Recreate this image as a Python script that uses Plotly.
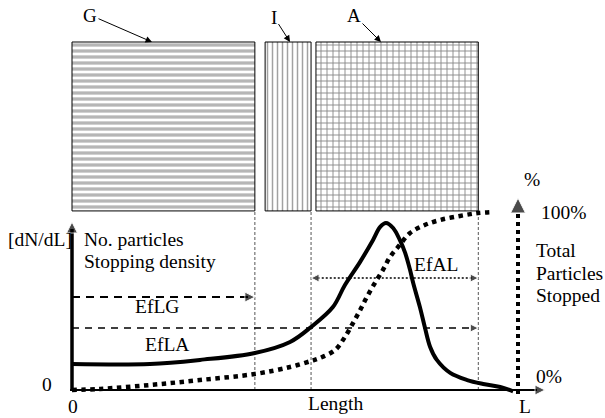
import plotly.graph_objects as go

# ---------------- data ----------------
layer_names = ["G", "I", "A"]
layer_start = [0.0, 43.3, 54.7]
layer_end = [41.0, 53.6, 91.1]
layer_band = [100.6, 195.5]          # vertical extent of the layer sketch

length_pos = [0, 17.5, 28.7, 41.0, 48.9, 53.6, 58.5, 61.2, 64.6, 67.5, 69.1, 70.4,
              72.0, 73.5, 74.7, 75.8, 76.5, 78.0, 79.1, 80.3, 81.8, 84.8, 88.6,
              92.2, 96.0, 98.9]
density = [14.6, 14.6, 16.9, 20.8, 27.0, 35.4, 46.6, 59.0, 72.0, 84.3, 91.6, 93.8,
           91.0, 84.3, 77.0, 67.4, 60.1, 46.6, 35.4, 24.2, 16.9, 9.6, 5.6,
           3.4, 1.7, -0.8]

cum_pos = [0, 6.3, 17.5, 28.7, 41.0, 48.9, 53.6, 55.6, 59.0, 61.2, 63.0, 64.6,
           66.1, 67.9, 69.7, 71.3, 73.5, 75.8, 79.1, 82.5, 87.0, 91.0, 94.4]
cum_pct = [0, 0.6, 2.8, 5.6, 9.0, 12.9, 16.3, 18.0, 22.5, 29.8, 37.6, 44.9,
           52.2, 60.1, 67.4, 74.7, 81.5, 88.2, 92.7, 95.5, 97.8, 99.4, 100]

L_total = 100.0
eflg_level = 52.2
efla_level = 34.8
efal_level = 62.9

# ---------------- layout helpers (pixel -> data) ----------------
SX, X0 = 4.46, 72.0
SY, Y0 = 1.78, 390.0


def dx(p):
    return (p - X0) / SX


def dy(p):
    return (Y0 - p) / SY


FONT = "Liberation Serif"
fig = go.Figure()

# ---- layer rectangles ----
patterns = [
    dict(shape="-", size=6, solidity=0.55, fgcolor="#6e6e6e", bgcolor="white"),
    dict(shape="|", size=5, solidity=0.3, fgcolor="#444444", bgcolor="white"),
    dict(shape="+", size=6, solidity=0.28, fgcolor="#111111", bgcolor="white"),
]
for name, s, e, pat in zip(layer_names, layer_start, layer_end, patterns):
    fig.add_trace(go.Bar(
        x=[(s + e) / 2], y=[layer_band[1] - layer_band[0]], base=[layer_band[0]],
        width=[e - s], marker=dict(color="white", line=dict(color="black", width=1),
                                   pattern=pat),
        showlegend=False, hoverinfo="skip", name=name))

# ---- vertical guide lines at layer ends ----
for xe in [layer_end[0], layer_end[1], layer_end[2]]:
    fig.add_trace(go.Scatter(x=[xe, xe], y=[0, layer_band[0]], mode="lines",
                             line=dict(color="#555555", width=1, dash="3px,2px"),
                             showlegend=False, hoverinfo="skip"))

# ---- EfLG / EfLA / EfAL arrows ----
fig.add_trace(go.Scatter(x=[0, layer_end[0] - 1.5], y=[eflg_level] * 2, mode="lines",
                         line=dict(color="black", width=2, dash="8px,6px"),
                         showlegend=False, hoverinfo="skip"))
fig.add_trace(go.Scatter(x=[0, layer_end[2] - 1.5], y=[efla_level] * 2, mode="lines",
                         line=dict(color="black", width=1.4, dash="7px,6px"),
                         showlegend=False, hoverinfo="skip"))
fig.add_trace(go.Scatter(x=[layer_end[1] + 1.5, layer_end[2] - 1.5], y=[efal_level] * 2,
                         mode="lines", line=dict(color="black", width=1.5, dash="2px,2px"),
                         showlegend=False, hoverinfo="skip"))
fig.add_trace(go.Scatter(
    x=[layer_end[0], layer_end[2], layer_end[2], layer_end[1]],
    y=[eflg_level, efla_level, efal_level, efal_level], mode="markers",
    marker=dict(symbol=["arrow-right", "arrow-right", "arrow-right", "arrow-left"],
                size=[10, 8, 8, 8], color="black"),
    showlegend=False, hoverinfo="skip"))

# ---- axes (drawn) ----
fig.add_trace(go.Scatter(x=[0, 0], y=[0, dy(229)], mode="lines",
                         line=dict(color="black", width=3.5),
                         showlegend=False, hoverinfo="skip"))
fig.add_trace(go.Scatter(x=[dx(70), dx(537)], y=[0, 0], mode="lines",
                         line=dict(color="black", width=2),
                         showlegend=False, hoverinfo="skip"))
fig.add_trace(go.Scatter(x=[L_total, L_total], y=[dy(394), dy(214)], mode="lines",
                         line=dict(color="black", width=4, dash="4px,4px"),
                         showlegend=False, hoverinfo="skip"))
fig.add_trace(go.Scatter(
    x=[0, dx(545), L_total], y=[dy(222), 0, dy(198)], mode="markers",
    marker=dict(symbol=["arrow-up", "arrow-right", "arrow-up"], size=[11, 10, 15],
                color="black"),
    showlegend=False, hoverinfo="skip"))

# ---- curves ----
fig.add_trace(go.Scatter(x=cum_pos, y=cum_pct, mode="lines",
                         line=dict(color="black", width=4.5, dash="dot", shape="spline"),
                         showlegend=False, hoverinfo="skip"))
fig.add_trace(go.Scatter(x=length_pos, y=density, mode="lines",
                         line=dict(color="black", width=4, shape="spline"),
                         showlegend=False, hoverinfo="skip"))

# ---- text ----
texts = [
    ("[dN/dL]", 7, 239, "left", "middle"),
    ("No. particles", 83, 239, "left", "middle"),
    ("Stopping density", 83, 261, "left", "middle"),
    ("EfLG", 157, 306, "center", "middle"),
    ("EfLA", 167, 344, "center", "middle"),
    ("EfAL", 436, 264, "center", "middle"),
    ("0", 47, 384, "center", "middle"),
    ("0", 73, 418, "center", "bottom"),
    ("Length", 335, 403, "center", "middle"),
    ("L", 525, 418, "center", "bottom"),
    ("0%", 535, 376, "left", "middle"),
    ("100%", 540, 212, "left", "middle"),
    ("%", 532, 179, "center", "middle"),
    ("Total", 535, 250, "left", "middle"),
    ("Particles", 535, 273, "left", "middle"),
    ("Stopped", 535, 295, "left", "middle"),
]
for t, xp, yp, anc, vanc in texts:
    fig.add_annotation(x=dx(xp), y=dy(yp), text=t, showarrow=False, xanchor=anc,
                       yanchor=vanc, borderpad=0,
                       font=dict(family=FONT, size=19.5, color="black"))

# layer labels with pointer arrows
labels = [("G", 90, 15, 152, 42), ("I", 274, 17, 290, 42), ("A", 354, 15, 381, 42)]
for t, lx, ly, tx, ty in labels:
    fig.add_annotation(x=dx(tx), y=dy(ty), ax=lx - tx, ay=ly - ty, text=t,
                       showarrow=True, arrowhead=2, arrowsize=1.3, arrowwidth=1,
                       arrowcolor="black",
                       font=dict(family=FONT, size=19, color="black"))

fig.update_layout(
    width=605, height=418, margin=dict(l=0, r=0, t=0, b=0),
    paper_bgcolor="white", plot_bgcolor="white", barmode="overlay",
    xaxis=dict(range=[dx(0), dx(605)], visible=False, fixedrange=True),
    yaxis=dict(range=[dy(418), dy(0)], visible=False, fixedrange=True),
    showlegend=False,
)
fig.write_html("out.html", config={"displayModeBar": False},
               post_script="document.body.style.margin='0px';"
                           "document.body.style.overflow='hidden';")
